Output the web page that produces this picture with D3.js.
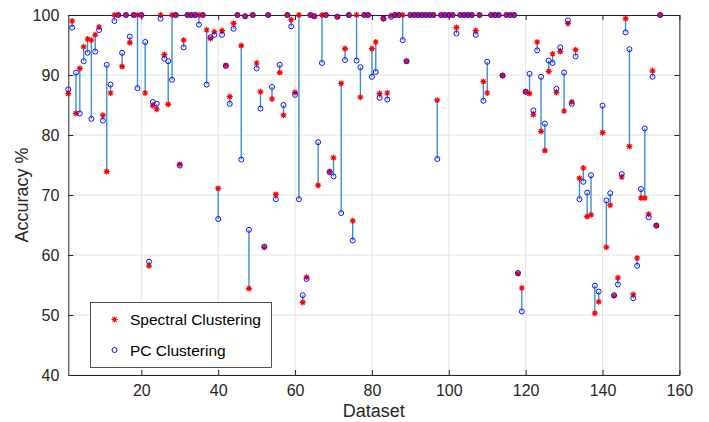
<!DOCTYPE html>
<html><head><meta charset="utf-8">
<script src="https://cdn.jsdelivr.net/npm/d3@7"></script>
<style>body{margin:0;background:#fff}</style>
</head><body>
<svg id="chart" width="709" height="422"></svg>
<script>
const spectral = [
86.9, 99, 83.6, 91.1, 94.7, 96, 95.8, 96.7, 98, 83.3,
73.9, 87, 100, 100, 91.4, 100, 95.4, 100, 100, 100,
87, 58.2, 84.9, 84.3, 100, 93.4, 85.1, 100, 100, 75.1,
95.8, 100, 100, 100, 100, 100, 97.5, 96.1, 97.2, 71.1,
97.4, 91.6, 86.4, 98.6, 100, 94.9, 99.8, 54.4, 100, 92,
87.2, 61.3, 100, 86, 70.1, 90.4, 83.3, 100, 99.2, 87.1,
100, 52.1, 56.3, 100, 99.8, 71.6, 100, 100, 73.9, 76.2,
99.7, 88.6, 94.4, 100, 65.7, 100, 86.3, 100, 100, 94.4,
95.5, 86.9, 99.4, 87, 99.9, 100, 100, 100, 92.3, 100,
100, 100, 100, 100, 100, 100, 85.8, 100, 100, 100,
100, 97.9, 100, 100, 100, 100, 97.4, 100, 88.9, 87,
100, 100, 100, 89.9, 100, 100, 100, 56.9, 54.5, 87.2,
86.9, 83.4, 95.5, 80.6, 77.4, 90.6, 93.5, 87.1, 93.9, 84,
98.6, 85.5, 94.2, 72.8, 74.5, 66.4, 66.7, 50.3, 52.2, 80.4,
61.3, 68.3, 53.2, 56.2, 73, 99.4, 78.1, 53.4, 59.5, 69.5,
69.5, 66.8, 90.7, 64.9, 100
];
const pc = [
87.6, 97.9, 90.4, 83.6, 92.3, 93.7, 82.7, 93.9, 97.5, 82.4,
91.7, 88.4, 99, 100, 93.7, 100, 96.4, 100, 87.8, 100,
95.5, 58.9, 85.5, 85.2, 99.4, 92.7, 92.3, 89.2, 100, 74.9,
94.6, 100, 100, 100, 98.4, 100, 88.4, 96.3, 96.7, 66,
96.7, 91.5, 85.2, 97.7, 100, 75.9, 99.8, 64.2, 100, 91.1,
84.4, 61.4, 100, 88, 69.3, 91.7, 85, 100, 98.1, 86.7,
69.3, 53.3, 56, 100, 99.8, 78.8, 92, 100, 73.8, 73.1,
99.7, 67, 92.5, 100, 62.4, 92.4, 91.3, 100, 100, 89.7,
90.5, 86.2, 99.4, 85.9, 99.7, 100, 100, 95.8, 92.3, 100,
100, 100, 100, 100, 100, 100, 76, 100, 100, 100,
100, 96.9, 100, 100, 100, 100, 96.7, 100, 85.7, 92.2,
100, 100, 100, 89.9, 100, 100, 100, 57, 50.6, 87.2,
90.2, 84.1, 94.1, 89.7, 81.9, 92.4, 92, 87.7, 94.6, 90.4,
99.1, 85.2, 93.1, 69.3, 72.2, 70.4, 73.3, 54.9, 53.9, 84.9,
69.1, 70.3, 53.3, 55.1, 73.5, 97.1, 94.3, 52.8, 58.2, 71,
81.1, 66.3, 89.7, 64.9, 100
];
const xTicks = [20, 40, 60, 80, 100, 120, 140, 160];
const yTicks = [40, 50, 60, 70, 80, 90, 100];
const seriesNames = ["Spectral Clustering", "PC Clustering"];

const datasets = spectral.map((s, i) => ({ id: i + 1, s: s, p: pc[i] }));

const svg = d3.select("#chart");
const L = 68.3, R = 679.4, T = 15, B = 375;
const x = d3.scaleLinear().domain([1, 160]).range([L, R]);
const y = d3.scaleLinear().domain([40, 100]).range([B, T]);
const font = "'Liberation Sans', Arial, Helvetica, sans-serif";
const axisColor = "#262626";

// grid
const grid = svg.append("g");
grid.selectAll(".gx").data(xTicks).join("line")
  .attr("x1", d => x(d)).attr("x2", d => x(d)).attr("y1", T).attr("y2", B)
  .attr("stroke", "#e3e3e3").attr("stroke-width", 1);
grid.selectAll(".gy").data(yTicks).join("line")
  .attr("x1", L).attr("x2", R).attr("y1", d => y(d)).attr("y2", d => y(d))
  .attr("stroke", "#e3e3e3").attr("stroke-width", 1);

// axes
const tickLen = 5;
const ax = svg.append("g").attr("transform", `translate(0,${B})`)
  .call(d3.axisBottom(x).tickValues(xTicks).tickSizeInner(-tickLen).tickSizeOuter(0).tickPadding(10));
const ay = svg.append("g").attr("transform", `translate(${L},0)`)
  .call(d3.axisLeft(y).tickValues(yTicks).tickSizeInner(-tickLen).tickSizeOuter(0).tickPadding(9));
const axTop = svg.append("g").attr("transform", `translate(0,${T})`)
  .call(d3.axisTop(x).tickValues(xTicks).tickSizeInner(-tickLen).tickSizeOuter(0).tickFormat(""));
const ayRight = svg.append("g").attr("transform", `translate(${R},0)`)
  .call(d3.axisRight(y).tickValues(yTicks).tickSizeInner(-tickLen).tickSizeOuter(0).tickFormat(""));
[ax, ay, axTop, ayRight].forEach(g => {
  g.select(".domain").attr("stroke", axisColor).attr("stroke-width", 1);
  g.selectAll(".tick line").attr("stroke", axisColor).attr("stroke-width", 1);
  g.selectAll(".tick text").attr("fill", axisColor).attr("font-size", 16).attr("font-family", font);
});

// connectors
svg.append("g").selectAll("line").data(datasets.filter(d => d.s !== d.p)).join("line")
  .attr("x1", d => x(d.id)).attr("x2", d => x(d.id))
  .attr("y1", d => y(d.s)).attr("y2", d => y(d.p))
  .attr("stroke", "#3b8fd3").attr("stroke-width", 1.4);

// star path
function starPath(r) {
  const a = r * Math.SQRT1_2;
  return `M${-r},0L${r},0M0,${-r}L0,${r}M${-a},${-a}L${a},${a}M${-a},${a}L${a},${-a}`;
}
svg.append("g").selectAll("path").data(datasets).join("path")
  .attr("transform", d => `translate(${x(d.id)},${y(d.s)})`)
  .attr("d", starPath(3))
  .attr("stroke", "#ff0000").attr("stroke-width", 1.2).attr("fill", "none");

svg.append("g").selectAll("circle").data(datasets).join("circle")
  .attr("cx", d => x(d.id)).attr("cy", d => y(d.p)).attr("r", 2.5)
  .attr("fill", "none").attr("stroke", "#1010ff").attr("stroke-width", 1);

// labels
svg.append("text").attr("x", (L + R) / 2).attr("y", 417).attr("text-anchor", "middle")
  .attr("font-size", 18).attr("font-family", font).attr("fill", axisColor).text("Dataset");
svg.append("text").attr("transform", `translate(28,${(T + B) / 2}) rotate(-90)`)
  .attr("text-anchor", "middle").attr("font-size", 18).attr("font-family", font)
  .attr("fill", axisColor).text("Accuracy %");

// legend
const lg = svg.append("g");
lg.append("rect").attr("x", 90.5).attr("y", 302.5).attr("width", 181).attr("height", 65)
  .attr("fill", "#fff").attr("stroke", axisColor).attr("stroke-width", 0.8);
lg.append("path").attr("transform", "translate(114.5,319.5)").attr("d", starPath(3))
  .attr("stroke", "#ff0000").attr("stroke-width", 1.2).attr("fill", "none");
lg.append("circle").attr("cx", 114.5).attr("cy", 350).attr("r", 2.5)
  .attr("fill", "none").attr("stroke", "#1010ff").attr("stroke-width", 1);
lg.selectAll("text").data(seriesNames).join("text")
  .attr("x", 130).attr("y", (d, i) => 325 + i * 30.5)
  .attr("font-size", 15.5).attr("font-family", font).attr("fill", "#000").text(d => d);
</script>
</body></html>
